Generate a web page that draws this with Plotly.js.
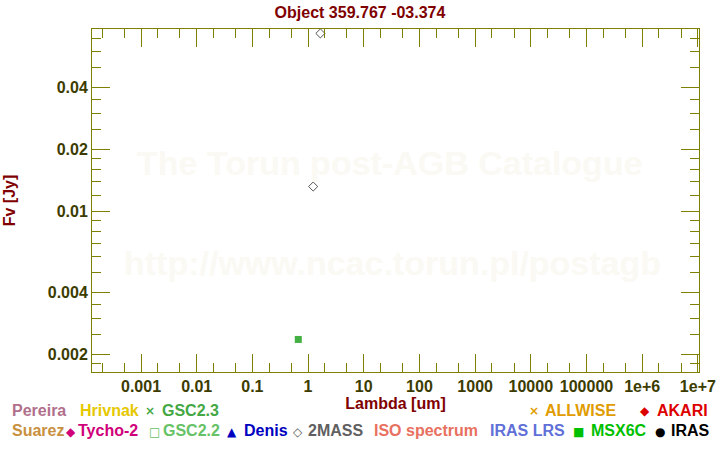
<!DOCTYPE html>
<html>
<head>
<meta charset="utf-8">
<script src="https://cdn.plot.ly/plotly-3.0.1.min.js"></script>
<style>html,body{margin:0;padding:0;background:#fff;}#chart{width:720px;height:450px;}</style>
</head>
<body>
<div id="chart"></div>
<script>
// ---- data ----
const twomassLambda = [1.235, 1.662];
const twomassFlux = [0.0132, 0.0737];
const gscLambda = [0.667];
const gscFlux = [0.00237];

const xTickVals = [1e-3, 1e-2, 1e-1, 1, 10, 100, 1000, 1e4, 1e5, 1e6, 1e7];
const xTickText = ['0.001', '0.01', '0.1', '1', '10', '100', '1000', '10000', '100000', '1e+6', '1e+7'];
const xMinorVals = [2e-4, 5e-4, 2e-3, 5e-3, 2e-2, 5e-2, 0.2, 0.5, 2, 5, 20, 50, 200, 500, 2000, 5000, 2e4, 5e4, 2e5, 5e5, 2e6, 5e6];
const yTickVals = [0.002, 0.004, 0.01, 0.02, 0.04];
const yTickText = ['0.002', '0.004', '0.01', '0.02', '0.04'];
const yMinorVals = [0.0018, 0.0025, 0.003, 0.0035, 0.005, 0.006, 0.007, 0.008, 0.009, 0.012, 0.014, 0.016, 0.018, 0.025, 0.03, 0.035, 0.05, 0.06, 0.07];

const legendLabels = ['Pereira', 'Hrivnak', 'GSC2.3', 'ALLWISE', 'AKARI', 'Suarez', 'Tycho-2', 'GSC2.2', 'Denis', '2MASS', 'ISO spectrum', 'IRAS LRS', 'MSX6C', 'IRAS'];
const legendSymbols = ['', '', '\u00d7', '\u00d7', '\u25c6', '', '\u25c6', '\u25a1', '\u25b2', '\u25c7', '', '', '\u25a0', '\u25cf'];

// ---- styles / layout ----
const legendColors = ['#b0708c', '#e6c800', '#44a844', '#e09c00', '#dd0000', '#c89040', '#d0007a', '#66c266', '#0000c0', '#606060', '#e87060', '#6070d8', '#00c000', '#000000'];
const legendTextX = [10, 77.5, 160, 543, 654.5, 10, 76, 161, 242, 305.5, 371.5, 488, 588.5, 669];
const legendSymX = [0, 0, 150, 533.7, 644.7, 0, 71, 154, 232, 298, 0, 0, 578.7, 660];
const legendRowY = [410.5, 410.5, 410.5, 410.5, 410.5, 430.5, 430.5, 430.5, 430.5, 430.5, 430.5, 430.5, 430.5, 430.5];

const L = 92, T = 29, R = 21, B = 78, W = 720, H = 450;
const pw = W - L - R, ph = H - T - B;
const px = x => (x - L) / pw;
const py = y => (H - B - y) / ph;

const FONT = 'Liberation Sans, Arial, sans-serif';
const axisColor = '#808000';
const tickFont = {family: FONT, size: 16, color: '#3c3c00', weight: 700};

const annotations = [];
// watermark
annotations.push({text: 'The Torun post-AGB Catalogue', xref: 'paper', yref: 'paper', x: px(390), y: py(163), xanchor: 'center', yanchor: 'middle', showarrow: false, font: {family: FONT, size: 34, color: 'rgb(251,249,243)', weight: 700}});
annotations.push({text: 'http://www.ncac.torun.pl/postagb', xref: 'paper', yref: 'paper', x: px(392), y: py(263), xanchor: 'center', yanchor: 'middle', showarrow: false, font: {family: FONT, size: 34, color: 'rgb(251,249,243)', weight: 700}});

legendLabels.forEach((lab, i) => {
  annotations.push({text: lab, xref: 'paper', yref: 'paper', x: px(legendTextX[i]), y: py(legendRowY[i]), xanchor: 'left', yanchor: 'middle', showarrow: false, font: {family: FONT, size: 16, color: legendColors[i], weight: 700}});
  if (legendSymbols[i]) {
    annotations.push({text: legendSymbols[i], xref: 'paper', yref: 'paper', x: px(legendSymX[i]), y: py(legendRowY[i] + 1), xanchor: 'center', yanchor: 'middle', showarrow: false, font: {family: 'DejaVu Sans, sans-serif', size: 12, color: legendColors[i], weight: 700}});
  }
});

const traces = [
  {x: twomassLambda, y: twomassFlux, type: 'scatter', mode: 'markers', name: '2MASS', marker: {symbol: 'diamond-open', size: 7, color: '#555555', line: {width: 1, color: '#555555'}}},
  {x: gscLambda, y: gscFlux, type: 'scatter', mode: 'markers', name: 'GSC2.2', marker: {symbol: 'square', size: 7, color: '#44b044', line: {width: 0}}}
];

const layout = {
  width: W, height: H,
  margin: {l: L, r: R, t: T, b: B, pad: 0},
  paper_bgcolor: '#ffffff', plot_bgcolor: '#ffffff',
  showlegend: false,
  title: {text: 'Object 359.767 -03.374', font: {family: FONT, size: 16, color: '#800000', weight: 700}, xref: 'container', x: 0.5, xanchor: 'center', yref: 'container', y: 1 - 12 / H, yanchor: 'middle'},
  xaxis: {
    type: 'log', range: [-3.88, 7.02], autorange: false,
    tickmode: 'array', tickvals: xTickVals, ticktext: xTickText,
    ticks: 'inside', ticklen: 18, tickwidth: 1, tickcolor: axisColor,
    showline: true, linecolor: axisColor, linewidth: 1, mirror: 'ticks',
    showgrid: false, zeroline: false, tickfont: tickFont,
    minor: {tickmode: 'array', tickvals: xMinorVals, ticks: 'inside', ticklen: 9, tickwidth: 1, tickcolor: axisColor, showgrid: false},
    title: {text: 'Lambda [um]', font: {family: FONT, size: 16, color: '#800000', weight: 700}, standoff: 3}
  },
  yaxis: {
    type: 'log', range: [-2.784, -1.111], autorange: false,
    tickmode: 'array', tickvals: yTickVals, ticktext: yTickText,
    ticks: 'inside', ticklen: 18, tickwidth: 1, tickcolor: axisColor,
    showline: true, linecolor: axisColor, linewidth: 1, mirror: 'ticks',
    showgrid: false, zeroline: false, tickfont: tickFont,
    minor: {tickmode: 'array', tickvals: yMinorVals, ticks: 'inside', ticklen: 9, tickwidth: 1, tickcolor: axisColor, showgrid: false},
    title: {text: 'Fv [Jy]', font: {family: FONT, size: 16, color: '#800000', weight: 700}, standoff: 28}
  },
  annotations: annotations
};

Plotly.newPlot('chart', traces, layout, {staticPlot: true, displayModeBar: false});
</script>
</body>
</html>
